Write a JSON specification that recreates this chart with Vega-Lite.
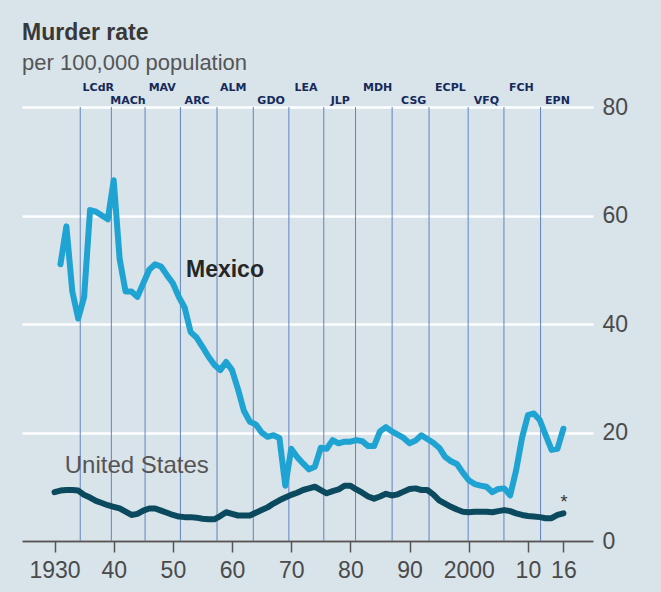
{
  "$schema": "https://vega.github.io/schema/vega-lite/v6.json",
  "width": 571,
  "height": 434,
  "autosize": "none",
  "padding": {"left": 22, "top": 107, "right": 68, "bottom": 51},
  "background": "#d8e3ea",
  "config": {"view": {"stroke": null}, "font": "Liberation Sans"},
  "title": {
    "text": "Murder rate",
    "subtitle": "per 100,000 population",
    "anchor": "start",
    "frame": "group",
    "font": "Liberation Sans",
    "fontSize": 23,
    "fontWeight": "bold",
    "color": "#383838",
    "subtitleFont": "Liberation Sans",
    "subtitleFontSize": 22,
    "subtitleColor": "#555555",
    "subtitlePadding": 8,
    "offset": 8
  },
  "datasets": {
    "rates": [
      {"year": 1931, "country": "Mexico", "rate": 51}, {"year": 1932, "country": "Mexico", "rate": 58}, {"year": 1933, "country": "Mexico", "rate": 46}, {"year": 1934, "country": "Mexico", "rate": 41}, {"year": 1935, "country": "Mexico", "rate": 45}, {"year": 1936, "country": "Mexico", "rate": 61}, {"year": 1937, "country": "Mexico", "rate": 60.7}, {"year": 1938, "country": "Mexico", "rate": 60}, {"year": 1939, "country": "Mexico", "rate": 59.3}, {"year": 1940, "country": "Mexico", "rate": 66.5},
      {"year": 1941, "country": "Mexico", "rate": 52}, {"year": 1942, "country": "Mexico", "rate": 46}, {"year": 1943, "country": "Mexico", "rate": 46}, {"year": 1944, "country": "Mexico", "rate": 45}, {"year": 1945, "country": "Mexico", "rate": 47.5}, {"year": 1946, "country": "Mexico", "rate": 50}, {"year": 1947, "country": "Mexico", "rate": 51}, {"year": 1948, "country": "Mexico", "rate": 50.6}, {"year": 1949, "country": "Mexico", "rate": 49}, {"year": 1950, "country": "Mexico", "rate": 47.5},
      {"year": 1951, "country": "Mexico", "rate": 45}, {"year": 1952, "country": "Mexico", "rate": 43}, {"year": 1953, "country": "Mexico", "rate": 38.5}, {"year": 1954, "country": "Mexico", "rate": 37.5}, {"year": 1955, "country": "Mexico", "rate": 35.8}, {"year": 1956, "country": "Mexico", "rate": 34}, {"year": 1957, "country": "Mexico", "rate": 32.5}, {"year": 1958, "country": "Mexico", "rate": 31.5}, {"year": 1959, "country": "Mexico", "rate": 33}, {"year": 1960, "country": "Mexico", "rate": 31.5},
      {"year": 1961, "country": "Mexico", "rate": 28}, {"year": 1962, "country": "Mexico", "rate": 24}, {"year": 1963, "country": "Mexico", "rate": 22}, {"year": 1964, "country": "Mexico", "rate": 21.5}, {"year": 1965, "country": "Mexico", "rate": 20}, {"year": 1966, "country": "Mexico", "rate": 19.2}, {"year": 1967, "country": "Mexico", "rate": 19.5}, {"year": 1968, "country": "Mexico", "rate": 19}, {"year": 1969, "country": "Mexico", "rate": 10.2}, {"year": 1970, "country": "Mexico", "rate": 17},
      {"year": 1971, "country": "Mexico", "rate": 15.5}, {"year": 1972, "country": "Mexico", "rate": 14.3}, {"year": 1973, "country": "Mexico", "rate": 13.2}, {"year": 1974, "country": "Mexico", "rate": 13.7}, {"year": 1975, "country": "Mexico", "rate": 17.2}, {"year": 1976, "country": "Mexico", "rate": 17}, {"year": 1977, "country": "Mexico", "rate": 18.6}, {"year": 1978, "country": "Mexico", "rate": 18}, {"year": 1979, "country": "Mexico", "rate": 18.3}, {"year": 1980, "country": "Mexico", "rate": 18.3},
      {"year": 1981, "country": "Mexico", "rate": 18.6}, {"year": 1982, "country": "Mexico", "rate": 18.4}, {"year": 1983, "country": "Mexico", "rate": 17.5}, {"year": 1984, "country": "Mexico", "rate": 17.5}, {"year": 1985, "country": "Mexico", "rate": 20.2}, {"year": 1986, "country": "Mexico", "rate": 21}, {"year": 1987, "country": "Mexico", "rate": 20.2}, {"year": 1988, "country": "Mexico", "rate": 19.6}, {"year": 1989, "country": "Mexico", "rate": 19}, {"year": 1990, "country": "Mexico", "rate": 18},
      {"year": 1991, "country": "Mexico", "rate": 18.5}, {"year": 1992, "country": "Mexico", "rate": 19.5}, {"year": 1993, "country": "Mexico", "rate": 18.8}, {"year": 1994, "country": "Mexico", "rate": 18.1}, {"year": 1995, "country": "Mexico", "rate": 17.2}, {"year": 1996, "country": "Mexico", "rate": 15.5}, {"year": 1997, "country": "Mexico", "rate": 14.7}, {"year": 1998, "country": "Mexico", "rate": 14.2}, {"year": 1999, "country": "Mexico", "rate": 12.6}, {"year": 2000, "country": "Mexico", "rate": 11.2},
      {"year": 2001, "country": "Mexico", "rate": 10.5}, {"year": 2002, "country": "Mexico", "rate": 10.2}, {"year": 2003, "country": "Mexico", "rate": 10}, {"year": 2004, "country": "Mexico", "rate": 9}, {"year": 2005, "country": "Mexico", "rate": 9.6}, {"year": 2006, "country": "Mexico", "rate": 9.7}, {"year": 2007, "country": "Mexico", "rate": 8.4}, {"year": 2008, "country": "Mexico", "rate": 13}, {"year": 2009, "country": "Mexico", "rate": 19}, {"year": 2010, "country": "Mexico", "rate": 23.2},
      {"year": 2011, "country": "Mexico", "rate": 23.5}, {"year": 2012, "country": "Mexico", "rate": 22.3}, {"year": 2013, "country": "Mexico", "rate": 19.5}, {"year": 2014, "country": "Mexico", "rate": 16.8}, {"year": 2015, "country": "Mexico", "rate": 17}, {"year": 2016, "country": "Mexico", "rate": 20.7},
      {"year": 1930, "country": "United States", "rate": 9.0}, {"year": 1931, "country": "United States", "rate": 9.3}, {"year": 1932, "country": "United States", "rate": 9.4}, {"year": 1933, "country": "United States", "rate": 9.4}, {"year": 1934, "country": "United States", "rate": 9.3}, {"year": 1935, "country": "United States", "rate": 8.5}, {"year": 1936, "country": "United States", "rate": 8.0}, {"year": 1937, "country": "United States", "rate": 7.4}, {"year": 1938, "country": "United States", "rate": 7.0}, {"year": 1939, "country": "United States", "rate": 6.6},
      {"year": 1940, "country": "United States", "rate": 6.3}, {"year": 1941, "country": "United States", "rate": 6.0}, {"year": 1942, "country": "United States", "rate": 5.4}, {"year": 1943, "country": "United States", "rate": 4.8}, {"year": 1944, "country": "United States", "rate": 5.0}, {"year": 1945, "country": "United States", "rate": 5.6}, {"year": 1946, "country": "United States", "rate": 6.0}, {"year": 1947, "country": "United States", "rate": 6.0}, {"year": 1948, "country": "United States", "rate": 5.6}, {"year": 1949, "country": "United States", "rate": 5.2},
      {"year": 1950, "country": "United States", "rate": 4.8}, {"year": 1951, "country": "United States", "rate": 4.5}, {"year": 1952, "country": "United States", "rate": 4.4}, {"year": 1953, "country": "United States", "rate": 4.4}, {"year": 1954, "country": "United States", "rate": 4.3}, {"year": 1955, "country": "United States", "rate": 4.1}, {"year": 1956, "country": "United States", "rate": 4.0}, {"year": 1957, "country": "United States", "rate": 4.0}, {"year": 1958, "country": "United States", "rate": 4.6}, {"year": 1959, "country": "United States", "rate": 5.3},
      {"year": 1960, "country": "United States", "rate": 5.0}, {"year": 1961, "country": "United States", "rate": 4.7}, {"year": 1962, "country": "United States", "rate": 4.7}, {"year": 1963, "country": "United States", "rate": 4.7}, {"year": 1964, "country": "United States", "rate": 5.2}, {"year": 1965, "country": "United States", "rate": 5.7}, {"year": 1966, "country": "United States", "rate": 6.2}, {"year": 1967, "country": "United States", "rate": 6.9}, {"year": 1968, "country": "United States", "rate": 7.5}, {"year": 1969, "country": "United States", "rate": 8.0},
      {"year": 1970, "country": "United States", "rate": 8.5}, {"year": 1971, "country": "United States", "rate": 8.9}, {"year": 1972, "country": "United States", "rate": 9.4}, {"year": 1973, "country": "United States", "rate": 9.7}, {"year": 1974, "country": "United States", "rate": 10.0}, {"year": 1975, "country": "United States", "rate": 9.4}, {"year": 1976, "country": "United States", "rate": 8.8}, {"year": 1977, "country": "United States", "rate": 9.2}, {"year": 1978, "country": "United States", "rate": 9.5}, {"year": 1979, "country": "United States", "rate": 10.2},
      {"year": 1980, "country": "United States", "rate": 10.2}, {"year": 1981, "country": "United States", "rate": 9.5}, {"year": 1982, "country": "United States", "rate": 8.9}, {"year": 1983, "country": "United States", "rate": 8.2}, {"year": 1984, "country": "United States", "rate": 7.8}, {"year": 1985, "country": "United States", "rate": 8.2}, {"year": 1986, "country": "United States", "rate": 8.7}, {"year": 1987, "country": "United States", "rate": 8.4}, {"year": 1988, "country": "United States", "rate": 8.6}, {"year": 1989, "country": "United States", "rate": 9.1},
      {"year": 1990, "country": "United States", "rate": 9.6}, {"year": 1991, "country": "United States", "rate": 9.7}, {"year": 1992, "country": "United States", "rate": 9.4}, {"year": 1993, "country": "United States", "rate": 9.4}, {"year": 1994, "country": "United States", "rate": 8.6}, {"year": 1995, "country": "United States", "rate": 7.5}, {"year": 1996, "country": "United States", "rate": 6.9}, {"year": 1997, "country": "United States", "rate": 6.3}, {"year": 1998, "country": "United States", "rate": 5.8}, {"year": 1999, "country": "United States", "rate": 5.4},
      {"year": 2000, "country": "United States", "rate": 5.3}, {"year": 2001, "country": "United States", "rate": 5.4}, {"year": 2002, "country": "United States", "rate": 5.4}, {"year": 2003, "country": "United States", "rate": 5.4}, {"year": 2004, "country": "United States", "rate": 5.3}, {"year": 2005, "country": "United States", "rate": 5.5}, {"year": 2006, "country": "United States", "rate": 5.7}, {"year": 2007, "country": "United States", "rate": 5.5}, {"year": 2008, "country": "United States", "rate": 5.1}, {"year": 2009, "country": "United States", "rate": 4.8},
      {"year": 2010, "country": "United States", "rate": 4.6}, {"year": 2011, "country": "United States", "rate": 4.5}, {"year": 2012, "country": "United States", "rate": 4.4}, {"year": 2013, "country": "United States", "rate": 4.2}, {"year": 2014, "country": "United States", "rate": 4.2}, {"year": 2015, "country": "United States", "rate": 4.8}, {"year": 2016, "country": "United States", "rate": 5.1}
    ],
    "presidents": [
      {"abbr": "LCdR", "start": 1934.34, "mid": 1937.4, "tier": "upper"},
      {"abbr": "MACh", "start": 1939.6, "mid": 1942.4, "tier": "lower"},
      {"abbr": "MAV", "start": 1945.3, "mid": 1948.2, "tier": "upper"},
      {"abbr": "ARC", "start": 1951.27, "mid": 1954.1, "tier": "lower"},
      {"abbr": "ALM", "start": 1957.46, "mid": 1960.2, "tier": "upper"},
      {"abbr": "GDO", "start": 1963.59, "mid": 1966.6, "tier": "lower"},
      {"abbr": "LEA", "start": 1969.6, "mid": 1972.5, "tier": "upper"},
      {"abbr": "JLP", "start": 1975.5, "mid": 1978.3, "tier": "lower"},
      {"abbr": "MDH", "start": 1980.87, "mid": 1984.6, "tier": "upper"},
      {"abbr": "CSG", "start": 1987.05, "mid": 1990.7, "tier": "lower"},
      {"abbr": "ECPL", "start": 1993.29, "mid": 1996.9, "tier": "upper"},
      {"abbr": "VFQ", "start": 1999.9, "mid": 2003.0, "tier": "lower"},
      {"abbr": "FCH", "start": 2005.95, "mid": 2008.9, "tier": "upper"},
      {"abbr": "EPN", "start": 2012.14, "mid": 2015.0, "tier": "lower"}
    ],
    "notes": [
      {"text": "Mexico", "year": 1958.8, "value": 49.9, "kind": "mexico"},
      {"text": "United States", "year": 1943.9, "value": 13.8, "kind": "us"},
      {"text": "*", "year": 2016.1, "value": 7.0, "kind": "star"}
    ]
  },
  "layer": [
    {
      "data": {"name": "presidents"},
      "mark": {"type": "rule", "color": "#5f84c4", "strokeWidth": 1},
      "encoding": {
        "x": {"field": "start", "type": "quantitative", "scale": {"domain": [1924.5, 2021], "nice": false, "zero": false}},
        "y": {"datum": 0, "type": "quantitative", "scale": {"domain": [0, 80], "nice": false}},
        "y2": {"datum": 80}
      }
    },
    {
      "data": {"name": "rates"},
      "mark": {"type": "line", "strokeWidth": 6, "strokeCap": "round", "strokeJoin": "round"},
      "encoding": {
        "x": {
          "field": "year", "type": "quantitative",
          "scale": {"domain": [1924.5, 2021], "nice": false, "zero": false},
          "axis": {
            "title": null,
            "values": [1930, 1940, 1950, 1960, 1970, 1980, 1990, 2000, 2010, 2016],
            "labelExpr": "(datum.value == 1930 || datum.value == 2000) ? '' + datum.value : substring('' + datum.value, 2)",
            "grid": false,
            "domain": true, "domainColor": "#555555", "domainWidth": 2,
            "ticks": true, "tickColor": "#555555", "tickWidth": 1.5, "tickSize": 11,
            "labelFont": "Liberation Sans", "labelFontSize": 23, "labelColor": "#4a4a4a",
            "labelPadding": 7, "labelFlush": false, "labelOverlap": false
          }
        },
        "y": {
          "field": "rate", "type": "quantitative",
          "scale": {"domain": [0, 80], "nice": false},
          "axis": {
            "title": null, "orient": "right",
            "values": [0, 20, 40, 60, 80],
            "domain": false, "ticks": false,
            "grid": true, "gridColor": "#ffffff", "gridWidth": 2.5,
            "labelFont": "Liberation Sans", "labelFontSize": 23, "labelColor": "#4a4a4a",
            "labelPadding": 9, "labelBaseline": "middle"
          }
        },
        "color": {
          "field": "country", "type": "nominal",
          "scale": {"domain": ["Mexico", "United States"], "range": ["#1fa3d2", "#0b4a5e"]},
          "legend": null
        }
      }
    },
    {
      "data": {"name": "presidents"},
      "transform": [{"filter": "datum.tier == 'upper'"}],
      "mark": {"type": "text", "font": "DejaVu Sans", "fontWeight": "bold", "fontSize": 11, "color": "#15295a", "dy": -19, "baseline": "middle", "align": "center"},
      "encoding": {
        "x": {"field": "mid", "type": "quantitative"},
        "y": {"datum": 80, "type": "quantitative"},
        "text": {"field": "abbr"}
      }
    },
    {
      "data": {"name": "presidents"},
      "transform": [{"filter": "datum.tier == 'lower'"}],
      "mark": {"type": "text", "font": "DejaVu Sans", "fontWeight": "bold", "fontSize": 11, "color": "#15295a", "dy": -6, "baseline": "middle", "align": "center"},
      "encoding": {
        "x": {"field": "mid", "type": "quantitative"},
        "y": {"datum": 80, "type": "quantitative"},
        "text": {"field": "abbr"}
      }
    },
    {
      "data": {"name": "notes"},
      "transform": [{"filter": "datum.kind == 'mexico'"}],
      "mark": {"type": "text", "font": "Liberation Sans", "fontWeight": "bold", "fontSize": 23, "color": "#262626", "baseline": "middle", "align": "center"},
      "encoding": {
        "x": {"field": "year", "type": "quantitative"},
        "y": {"field": "value", "type": "quantitative"},
        "text": {"field": "text"}
      }
    },
    {
      "data": {"name": "notes"},
      "transform": [{"filter": "datum.kind == 'us'"}],
      "mark": {"type": "text", "font": "Liberation Sans", "fontSize": 24, "color": "#555555", "baseline": "middle", "align": "center"},
      "encoding": {
        "x": {"field": "year", "type": "quantitative"},
        "y": {"field": "value", "type": "quantitative"},
        "text": {"field": "text"}
      }
    },
    {
      "data": {"name": "notes"},
      "transform": [{"filter": "datum.kind == 'star'"}],
      "mark": {"type": "text", "font": "Liberation Sans", "fontSize": 18, "color": "#333333", "baseline": "middle", "align": "center"},
      "encoding": {
        "x": {"field": "year", "type": "quantitative"},
        "y": {"field": "value", "type": "quantitative"},
        "text": {"field": "text"}
      }
    }
  ]
}
